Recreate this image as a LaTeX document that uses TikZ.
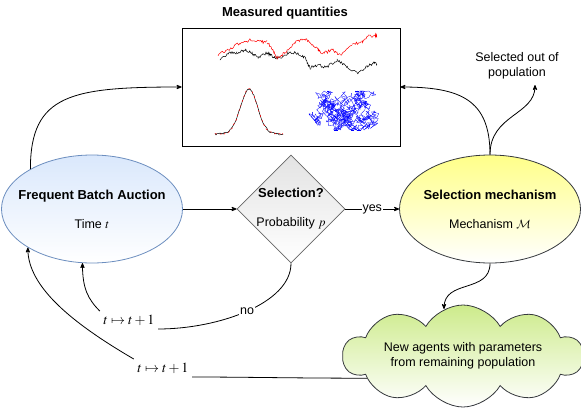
\documentclass[tikz,border=0pt]{standalone}
\usepackage{mathptmx}
\DeclareMathAlphabet{\mathcal}{OMS}{cmsy}{m}{n}
\usepackage{fontspec}
\setmainfont{Liberation Sans}
\usepackage{tikz}
\usetikzlibrary{arrows,shapes.geometric,shapes.symbols}

\definecolor{fbablue}{HTML}{DAE8FC}
\definecolor{fbaline}{HTML}{6C8EBF}
\definecolor{selgray}{HTML}{E3E3E3}
\definecolor{selline}{HTML}{666666}
\definecolor{mechyellow}{HTML}{FFFF88}
\definecolor{darkline}{HTML}{36393D}
\definecolor{cloudgreen}{HTML}{CDEB8B}
\newcommand{\twolines}[2]{{\bfseries\fontsize{13}{15}\selectfont #1}\\[14pt]#2}

\begin{document}
\begin{tikzpicture}[x=1pt,y=-1pt,line width=0.8pt,>=stealth']
    \tikzstyle{txt}=[font=\fontsize{12.5}{15}\selectfont,align=center]
    \tikzstyle{head}=[font=\fontsize{13}{15}\selectfont\bfseries]
    \tikzstyle{state}=[ellipse,minimum width=181pt,minimum height=108pt]
    \tikzstyle{decision}=[diamond,aspect=1,minimum width=108pt,minimum height=108pt,
      draw=selline,top color=selgray,bottom color=white]
    \tikzstyle{lbl}=[txt,fill=white,inner sep=1pt]
    \tikzstyle{tick}=[font=\fontsize{14}{16}\selectfont]
    \tikzstyle{walk}=[line width=0.5pt]
    \useasboundingbox (0,0) rectangle (581,410);
    \node[head] (title) at (285,13) {Measured quantities};
    \node[draw,minimum width=218pt,minimum height=118pt] (box) at (291,87) {};
    \node[state,draw=fbaline,top color=fbablue,bottom color=white,
      label={[txt]center:{\twolines{Frequent Batch Auction}{Time $t$}}}] (fba) at (92,209) {};
    \node[decision,label={[txt]center:{\twolines{Selection?}{Probability $p$}}}] (sel) at (291,209) {};
    \node[state,draw=darkline,top color=mechyellow,bottom color=white,
      label={[txt]center:{\twolines{Selection mechanism}{Mechanism $\mathcal{M}$}}}] (mech) at (490,209) {};
    \node[cloud,cloud puffs=10,cloud puff arc=120,draw=darkline,top color=cloudgreen,bottom color=white,
      minimum width=240pt,minimum height=102pt,
      label={[txt]center:{New agents with parameters\\from remaining population}}] (cloud) at (463,356) {};
    \node[txt] (outlbl) at (517,66) {Selected out of\\population};
    \node[tick] (tickA) at (129,320) {$t\mapsto t+1$};
    \node[tick] (tickB) at (163,368) {$t\mapsto t+1$};
    % measured quantities
    \pgfmathsetseed{11}
    \foreach \xx/\yy [remember=\xx as \px (initially 220),remember=\yy as \py (initially 60)] in
      {228/53,237/53,245/50,252/53,258/58,267/53,273/57,280/58,288/53,298/53,305/58,
       310/68,317/65,327/67,337/60,347/67,358/73,367/67,373/63,377/64}
      \draw[walk] plot[domain=\px:\xx,samples=10] (\x,{\py+(\yy-\py)*(\x-\px)/(\xx-\px)+1.6*rand});
    \foreach \xx/\yy [remember=\xx as \px (initially 218),remember=\yy as \py (initially 55)] in
      {228/50,240/43,250/40,260/42,267/42,273/50,277/58,285/53,295/43,303/38,310/42,
       318/50,323/53,333/50,340/55,352/45,362/42,367/37,375/35,377/37}
      \draw[red,walk] plot[domain=\px:\xx,samples=10] (\x,{\py+(\yy-\py)*(\x-\px)/(\xx-\px)+1.6*rand});
    \draw[walk] plot[domain=215:283,samples=69] (\x,{134-45*exp(0-(\x-249)*(\x-249)/144.5)+0.9*rand});
    \draw[red,walk,dash pattern=on 2pt off 3pt] plot[domain=215:283,samples=69]
      (\x,{134-45*exp(0-(\x-249)*(\x-249)/144.5)+0.9*rand});
    \def\bx{320}\def\by{108}
    \foreach \i in {1,...,800} {% blue random walk
      \pgfmathsetmacro\nx{\bx+4.5*rand+0.006*(345-\bx)}
      \pgfmathsetmacro\ny{\by+4.5*rand+0.02*(111-\by)}
      \pgfmathsetmacro\nx{max(309,min(381,\nx))}
      \pgfmathsetmacro\ny{max(91,min(130,\ny))}
      \draw[blue,line width=0.3pt] (\bx,\by) -- (\nx,\ny);
      \xdef\bx{\nx}\xdef\by{\ny}
    }
    % connectors
    \draw[->] (fba) -- (sel);
    \draw[->] (sel) -- node[lbl] {yes} (mech);
    \draw[->] (fba.147) .. controls +(0,-75) and +(-110,0) .. (box.west);
    \draw[->] (mech.north) .. controls +(0,-55) and +(60,0) .. (box.east);
    \coordinate (outend) at (535,85);
    \draw[->] (mech.north) .. controls +(0,-40) and +(0,30) .. (outend);
    \draw[->] (mech.south) .. controls +(0,30) and +(0,-30) .. (cloud.112);
    \draw (sel.south) .. controls +(0,40) and +(60,0) .. node[lbl] {no} (tickA.south east);
    \draw[->] (tickA.north west) .. controls +(-12,-12) and +(0,25) .. (fba.260);
    \draw (cloud.193) .. controls +(-70,0) and +(50,0) .. (tickB.south east);
    \draw[->] (tickB.north west) .. controls +(-60,-35) and +(0,40) .. (fba.211);
\end{tikzpicture}
\end{document}
